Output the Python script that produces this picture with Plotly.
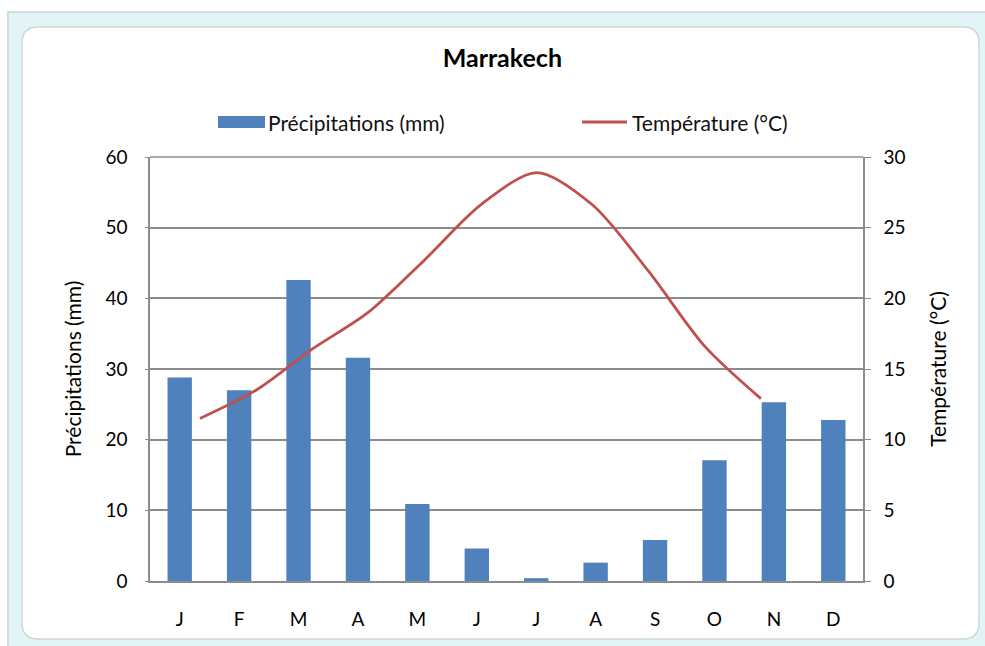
import plotly.graph_objects as go

# data
mois = ["J", "F", "M", "A", "M", "J", "J", "A", "S", "O", "N", "D"]
precipitations = [28.8, 27.0, 42.6, 31.6, 10.9, 4.6, 0.4, 2.6, 5.8, 17.1, 25.3, 22.8]
temperature = [11.5, 13.5, 16.4, 19.0, 22.7, 26.6, 28.9, 26.6, 21.9, 16.6, 12.9]

BLUE = "#4F81BD"
RED = "#C0504D"
GRID = "#8c8c8c"
FONT = "Lato"

W, H = 985, 646
L, R, T, B = 150, 122, 157, 65


def px(x):
    return (x - L) / (W - L - R)


def py(y):
    return (H - B - y) / (H - T - B)


def rounded(x0, y0, x1, y1, r):
    rx = r / (W - L - R)
    ry = r / (H - T - B)
    a, b, c, d = px(x0), py(y0), px(x1), py(y1)
    return (f"M{a + rx},{b} L{c - rx},{b} Q{c},{b} {c},{b - ry} "
            f"L{c},{d + ry} Q{c},{d} {c - rx},{d} L{a + rx},{d} "
            f"Q{a},{d} {a},{d + ry} L{a},{b - ry} Q{a},{b} {a + rx},{b} Z")


fig = go.Figure()
fig.add_trace(go.Bar(x=list(range(len(mois))), y=precipitations, name="Précipitations (mm)",
                     marker=dict(color=BLUE, line=dict(width=0)), width=0.41,
                     showlegend=False))
fig.add_trace(go.Scatter(x=list(range(len(temperature))), y=temperature, name="Température (°C)",
                         mode="lines", line=dict(color=RED, width=2.8, shape="spline", smoothing=0.8),
                         xaxis="x2", yaxis="y2", showlegend=False))

shapes = [
    dict(type="rect", xref="paper", yref="paper", x0=px(8), y0=py(12), x1=px(990), y1=py(650),
         fillcolor="#e2f4f6", line=dict(color="#c9d3d6", width=1.5), layer="below"),
    dict(type="path", xref="paper", yref="paper", path=rounded(22, 27, 979, 639, 16),
         fillcolor="white", line=dict(color="#cfd6d8", width=1.5), layer="below"),
    # legend symbols
    dict(type="rect", xref="paper", yref="paper", x0=px(218), y0=py(116), x1=px(265), y1=py(128),
         fillcolor=BLUE, line=dict(width=0)),
    dict(type="line", xref="paper", yref="paper", x0=px(582), y0=py(122), x1=px(627), y1=py(122),
         line=dict(color=RED, width=2.8)),
    # top border of plot area
    dict(type="line", xref="paper", yref="paper", x0=0, x1=1, y0=1, y1=1,
         line=dict(color=GRID, width=1.5)),
]

annotations = [
    dict(text="Précipitations (mm)", xref="paper", yref="paper", x=px(266), y=py(122),
         xanchor="left", yanchor="middle", showarrow=False, font=dict(family=FONT, size=21, color="#111")),
    dict(text="Température (°C)", xref="paper", yref="paper", x=px(630), y=py(122),
         xanchor="left", yanchor="middle", showarrow=False, font=dict(family=FONT, size=21, color="#111")),
]

fig.update_layout(
    width=W, height=H,
    margin=dict(l=L, r=R, t=T, b=B),
    paper_bgcolor="white", plot_bgcolor="rgba(0,0,0,0)",
    title=dict(text="<b>Marrakech</b>", x=0.51, xanchor="center", y=1 - 58 / H, yanchor="middle",
               font=dict(family=FONT, size=25, color="black")),
    font=dict(family=FONT, size=19, color="black"),
    xaxis=dict(range=[-0.5, 11.5], tickvals=list(range(len(mois))), ticktext=mois,
               showgrid=False, showline=True, linecolor=GRID, linewidth=1.5,
               ticks="", ticklabelstandoff=20, zeroline=False, fixedrange=True),
    xaxis2=dict(overlaying="x", range=[-0.89, 11.82], visible=False),
    yaxis=dict(range=[0, 60], dtick=10, showgrid=True, gridcolor=GRID, gridwidth=1.5,
               showline=True, linecolor=GRID, linewidth=1.5, ticks="outside", ticklen=3,
               tickcolor=GRID, ticklabelstandoff=14, zeroline=False,
               title=dict(text="Précipitations (mm)", standoff=18, font=dict(family=FONT, size=21))),
    yaxis2=dict(range=[0, 30], dtick=5, overlaying="y", side="right", showgrid=False,
                showline=True, linecolor=GRID, linewidth=1.5, ticks="outside", ticklen=6,
                tickcolor=GRID, ticklabelstandoff=9, zeroline=False,
                title=dict(text="Température (°C)", standoff=27, font=dict(family=FONT, size=21))),
    shapes=shapes,
    annotations=annotations,
)

fig.write_html("out.html", config={"displayModeBar": False},
               post_script="document.body.style.margin='0px';")
